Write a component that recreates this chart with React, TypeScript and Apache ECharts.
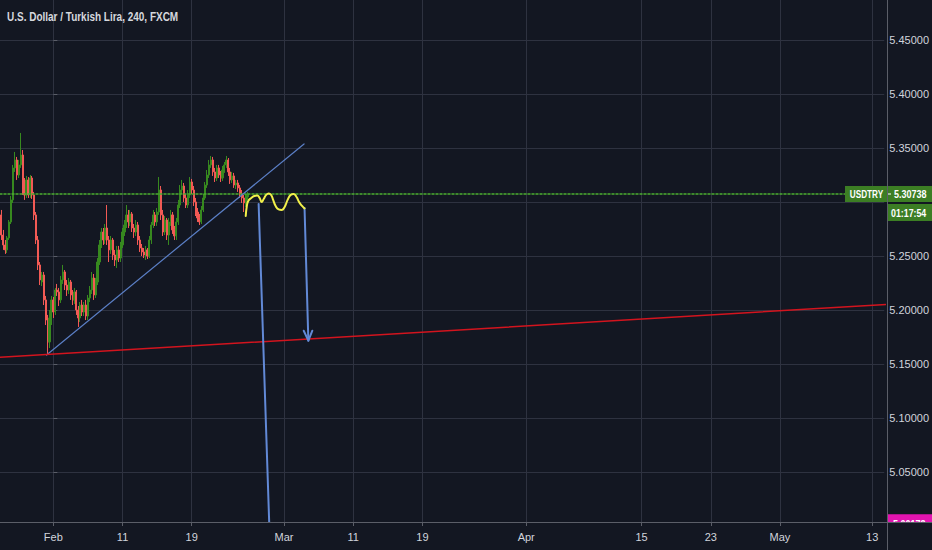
import React, { useEffect, useRef } from 'react';
import * as echarts from 'echarts';

const TITLE = 'U.S. Dollar / Turkish Lira, 240, FXCM';
const SYMBOL = 'USDTRY';
const LAST_PRICE = 5.30738;
const COUNTDOWN = '01:17:54';
const ARROW_END_PRICE = 5.00172;

const X_TICK_DATES = ['2019-02-01', '2019-02-11', '2019-02-19', '2019-03-01', '2019-03-11', '2019-03-19', '2019-04-01', '2019-04-15', '2019-04-23', '2019-05-01', '2019-05-13'];
const X_TICK_LABELS = ['Feb', '11', '19', 'Mar', '11', '19', 'Apr', '15', '23', 'May', '13'];
const Y_TICKS = [5.05, 5.1, 5.15, 5.2, 5.25, 5.3, 5.35, 5.4, 5.45];

// first 4h bar: 2019-01-25 12:00, six bars per trading day
const FIRST_BAR_DATE = '2019-01-25';
const FIRST_BAR_OFFSET = 0.5;
const BARS_PER_DAY = 6;

// [open, close, low, high]
const CANDLES: number[][] = [
  [5.2880, 5.2694, 5.2648, 5.2926], [5.2694, 5.2602, 5.2556, 5.2741], [5.2602, 5.2556, 5.2519, 5.2648], [5.2556, 5.2667, 5.2528, 5.2685], [5.2667, 5.2815, 5.2648, 5.2833],
  [5.2815, 5.3019, 5.2796, 5.3055], [5.3019, 5.3315, 5.2991, 5.3343], [5.3315, 5.3389, 5.3278, 5.3463], [5.3389, 5.3250, 5.3204, 5.3417], [5.3250, 5.3343, 5.3222, 5.3389],
  [5.3343, 5.3435, 5.3315, 5.3639], [5.3435, 5.3111, 5.3065, 5.3481], [5.3111, 5.3065, 5.3019, 5.3222], [5.3065, 5.3204, 5.3037, 5.3241], [5.3204, 5.3065, 5.3037, 5.3231],
  [5.3065, 5.3222, 5.3037, 5.3250], [5.3222, 5.3065, 5.3028, 5.3241], [5.3065, 5.2880, 5.2833, 5.3093], [5.2880, 5.2648, 5.2611, 5.2907], [5.2648, 5.2417, 5.2370, 5.2685],
  [5.2417, 5.2278, 5.2231, 5.2444], [5.2259, 5.2324, 5.2222, 5.2352], [5.2324, 5.2093, 5.2046, 5.2352], [5.2093, 5.1907, 5.1861, 5.2130], [5.1907, 5.1704, 5.1583, 5.1954],
  [5.1704, 5.1926, 5.1648, 5.2000], [5.1926, 5.2093, 5.1861, 5.2130], [5.2093, 5.1981, 5.1926, 5.2120], [5.1981, 5.2185, 5.1954, 5.2204], [5.2185, 5.2167, 5.2130, 5.2241],
  [5.2167, 5.2093, 5.2037, 5.2204], [5.2093, 5.2278, 5.2065, 5.2315], [5.2278, 5.2352, 5.2241, 5.2417], [5.2352, 5.2231, 5.2185, 5.2370], [5.2231, 5.2185, 5.2130, 5.2278],
  [5.2185, 5.2259, 5.2148, 5.2296], [5.2259, 5.2139, 5.2093, 5.2278], [5.2139, 5.2093, 5.2046, 5.2185], [5.2093, 5.2167, 5.2056, 5.2204], [5.2167, 5.2000, 5.1954, 5.2185],
  [5.2000, 5.1926, 5.1843, 5.2037], [5.1926, 5.2046, 5.1889, 5.2074], [5.2046, 5.1981, 5.1944, 5.2093], [5.1981, 5.2046, 5.1944, 5.2074], [5.2046, 5.1944, 5.1907, 5.2093],
  [5.1944, 5.2111, 5.1907, 5.2139], [5.2111, 5.2185, 5.2074, 5.2222], [5.2185, 5.2296, 5.2148, 5.2352], [5.2296, 5.2139, 5.2093, 5.2333], [5.2139, 5.2259, 5.2111, 5.2296],
  [5.2259, 5.2444, 5.2231, 5.2481], [5.2444, 5.2602, 5.2417, 5.2648], [5.2602, 5.2722, 5.2574, 5.2759], [5.2722, 5.2648, 5.2602, 5.2759], [5.2648, 5.2759, 5.2611, 5.2796],
  [5.2759, 5.2648, 5.2602, 5.2972], [5.2648, 5.2556, 5.2444, 5.2685], [5.2556, 5.2648, 5.2519, 5.2685], [5.2648, 5.2509, 5.2463, 5.2667], [5.2509, 5.2463, 5.2407, 5.2556],
  [5.2463, 5.2556, 5.2389, 5.2593], [5.2556, 5.2481, 5.2444, 5.2593], [5.2481, 5.2602, 5.2444, 5.2630], [5.2602, 5.2722, 5.2574, 5.2759], [5.2722, 5.2787, 5.2685, 5.2833],
  [5.2787, 5.2880, 5.2759, 5.2972], [5.2880, 5.2815, 5.2759, 5.2926], [5.2815, 5.2889, 5.2778, 5.2926], [5.2889, 5.2759, 5.2722, 5.2907], [5.2759, 5.2722, 5.2667, 5.2796],
  [5.2722, 5.2787, 5.2685, 5.2833], [5.2787, 5.2648, 5.2602, 5.2815], [5.2648, 5.2574, 5.2537, 5.2685], [5.2574, 5.2537, 5.2500, 5.2611], [5.2537, 5.2509, 5.2481, 5.2574],
  [5.2509, 5.2556, 5.2463, 5.2593], [5.2556, 5.2500, 5.2472, 5.2574], [5.2500, 5.2648, 5.2481, 5.2685], [5.2648, 5.2787, 5.2611, 5.2815], [5.2787, 5.2880, 5.2759, 5.2926],
  [5.2880, 5.2815, 5.2778, 5.2907], [5.2815, 5.2907, 5.2778, 5.2944], [5.2907, 5.3111, 5.2880, 5.3231], [5.3111, 5.2880, 5.2833, 5.3148], [5.2880, 5.2722, 5.2685, 5.2926],
  [5.2722, 5.2833, 5.2694, 5.2870], [5.2833, 5.2694, 5.2648, 5.2852], [5.2694, 5.2815, 5.2602, 5.2852], [5.2815, 5.2880, 5.2778, 5.2926], [5.2880, 5.2741, 5.2704, 5.2907],
  [5.2741, 5.2685, 5.2648, 5.2778], [5.2685, 5.2815, 5.2648, 5.2852], [5.2815, 5.2972, 5.2787, 5.3019], [5.2972, 5.3111, 5.2944, 5.3157], [5.3111, 5.3148, 5.3074, 5.3204],
  [5.3148, 5.3037, 5.3000, 5.3176], [5.3037, 5.2972, 5.2944, 5.3074], [5.2972, 5.3065, 5.2944, 5.3111], [5.3065, 5.3185, 5.3037, 5.3231], [5.3185, 5.3111, 5.3074, 5.3213],
  [5.3111, 5.3000, 5.2963, 5.3148], [5.3000, 5.2907, 5.2870, 5.3037], [5.2907, 5.2852, 5.2815, 5.2944], [5.2852, 5.2815, 5.2787, 5.2889], [5.2815, 5.2926, 5.2796, 5.2963],
  [5.2926, 5.3037, 5.2907, 5.3074], [5.3037, 5.3157, 5.3019, 5.3185], [5.3157, 5.3250, 5.3130, 5.3296], [5.3250, 5.3343, 5.3222, 5.3389], [5.3343, 5.3389, 5.3315, 5.3426],
  [5.3389, 5.3278, 5.3241, 5.3417], [5.3278, 5.3222, 5.3185, 5.3315], [5.3222, 5.3315, 5.3194, 5.3343], [5.3315, 5.3250, 5.3222, 5.3343], [5.3250, 5.3222, 5.3185, 5.3287],
  [5.3222, 5.3296, 5.3194, 5.3333], [5.3296, 5.3343, 5.3269, 5.3370], [5.3343, 5.3389, 5.3315, 5.3426], [5.3389, 5.3278, 5.3241, 5.3407], [5.3278, 5.3204, 5.3167, 5.3315],
  [5.3204, 5.3241, 5.3176, 5.3278], [5.3241, 5.3157, 5.3130, 5.3269], [5.3157, 5.3176, 5.3120, 5.3204], [5.3176, 5.3130, 5.3093, 5.3204], [5.3130, 5.3074, 5.3037, 5.3157],
  [5.3074, 5.3037, 5.2991, 5.3111], [5.3037, 5.2991, 5.2907, 5.3065], [5.2991, 5.3046, 5.2954, 5.3074], [5.3046, 5.30738, 5.3019, 5.3093],
];

// drawings, as [trading day since 2019-02-01, price]
const TREND_LINE = [[-0.588, 5.1583], [21.737, 5.3537]];
const SUPPORT_LINE = [[-4.7, 5.15615], [72.5, 5.2053]];
const ARROW_1 = [[17.8, 5.2982], [18.72, ARROW_END_PRICE]];
const ARROW_2 = [[21.78, 5.2945], [22.11, 5.1716]];
const ARROW_2_HEAD = [[21.71, 5.1808], [22.11, 5.1716], [22.455, 5.1808]];
const SQUIGGLE_DAYS = [16.681, 16.768, 16.897, 17.157, 17.416, 17.675, 17.891, 18.064, 18.237, 18.453, 18.669, 18.885, 19.058, 19.274, 19.533, 19.793, 20.052, 20.311, 20.57, 20.83, 21.089, 21.305, 21.521, 21.78];
const SQUIGGLE_PRICES = [5.287, 5.2954, 5.3009, 5.3037, 5.3055, 5.306, 5.3037, 5.3, 5.3028, 5.3065, 5.3079, 5.3065, 5.3019, 5.2963, 5.2931, 5.2926, 5.2954, 5.3019, 5.3065, 5.3074, 5.3046, 5.3, 5.2968, 5.294];

const X_MIN = -4.624;
const X_MAX = 72.04;
const Y_MIN = 5.0037;
const Y_MAX = 5.4870;

const BG = '#131722';
const GRID = '#2e3240';
const SEP = '#5b5e68';
const TEXT = '#d1d4dc';
const UP = '#37891f';
const DOWN = '#f25a55';
const LABEL_GREEN = '#3c7e24';
const MAGENTA = '#e314b0';
const BLUE = '#6289d6';
const FONT = "'Liberation Sans', Arial, sans-serif";

function tradingDay(date: string): number {
  const base = Date.UTC(2019, 1, 1);
  const t = Date.parse(date + 'T00:00:00Z');
  const DAY = 86400000;
  let n = 0;
  if (t >= base) {
    for (let x = base; x < t; x += DAY) {
      const w = new Date(x).getUTCDay();
      if (w !== 0 && w !== 6) n++;
    }
  } else {
    for (let x = t; x < base; x += DAY) {
      const w = new Date(x).getUTCDay();
      if (w !== 0 && w !== 6) n--;
    }
  }
  return n;
}

export default function App() {
  const ref = useRef<HTMLDivElement>(null);
  useEffect(() => {
    if (!ref.current) return;
    const chart = echarts.init(ref.current, null, { renderer: 'svg' });
    const xTickDays = X_TICK_DATES.map(tradingDay);
    const firstDay = tradingDay(FIRST_BAR_DATE) + FIRST_BAR_OFFSET;
    const candleData = CANDLES.map((c, i) => [firstDay + i / BARS_PER_DAY, c[0], c[1], c[2], c[3]]);
    const squiggle = SQUIGGLE_DAYS.map((d, i) => [d, SQUIGGLE_PRICES[i]]);

    const drawing = (name: string, data: number[][], color: string, width: number, smooth = false, type: any = 'solid') => ({
      name,
      type: 'line',
      data,
      symbol: 'none',
      showSymbol: false,
      smooth,
      silent: true,
      clip: true,
      z: 5,
      lineStyle: { color, width, type, cap: 'round', join: 'round' },
    });

    chart.setOption({
      animation: false,
      backgroundColor: BG,
      grid: { left: 0, top: 0, right: 45, bottom: 28 },
      xAxis: {
        type: 'value',
        min: X_MIN,
        max: X_MAX,
        axisLine: { show: false },
        axisTick: { show: true, customValues: xTickDays, length: 4, lineStyle: { color: SEP } },
        axisLabel: {
          customValues: xTickDays,
          formatter: (v: number) => {
            const i = xTickDays.findIndex((d) => Math.abs(d - v) < 1e-6);
            return i >= 0 ? X_TICK_LABELS[i] : '';
          },
          color: TEXT,
          fontSize: 11,
          margin: 9,
          fontFamily: FONT,
        },
        splitLine: { show: true, lineStyle: { color: GRID, width: 1 } },
      },
      yAxis: {
        type: 'value',
        position: 'right',
        min: Y_MIN,
        max: Y_MAX,
        axisLine: { show: false },
        axisTick: { show: true, customValues: Y_TICKS, length: 4, lineStyle: { color: SEP } },
        axisLabel: {
          customValues: Y_TICKS,
          // the tick label under the last-price tag is hidden, as in the original
          formatter: (v: number) => (Math.abs(v - LAST_PRICE) < 0.012 ? '' : v.toFixed(5)),
          color: TEXT,
          fontSize: 11,
          margin: 5,
          fontFamily: FONT,
        },
        splitLine: { show: true, lineStyle: { color: GRID, width: 1 } },
      },
      series: [
        {
          name: SYMBOL,
          type: 'candlestick',
          data: candleData,
          barWidth: 1.6,
          clip: true,
          z: 3,
          itemStyle: { color: UP, color0: DOWN, borderColor: UP, borderColor0: DOWN, borderWidth: 1 },
        },
        drawing('last price', [[X_MIN, LAST_PRICE], [X_MAX, LAST_PRICE]], '#4caf30', 1.5, false, [2, 2]),
        drawing('trend', TREND_LINE, '#5b7fc6', 1.2),
        drawing('support', SUPPORT_LINE, '#d3141e', 1.5),
        drawing('arrow1', ARROW_1, BLUE, 2),
        drawing('arrow2', ARROW_2, BLUE, 2),
        drawing('arrow2head', ARROW_2_HEAD, BLUE, 2),
        drawing('squiggle', squiggle, '#f2f04a', 2, true),
      ],
    });

    const yLast = chart.convertToPixel({ gridIndex: 0 }, [0, LAST_PRICE])[1];
    const yEnd = chart.convertToPixel({ gridIndex: 0 }, [0, ARROW_END_PRICE])[1];
    const lbl = { fontFamily: FONT, fill: '#ffffff', fontWeight: 'bold', verticalAlign: 'middle' };

    chart.setOption({
      graphic: [
        { type: 'text', z: 101, x: 7, y: 17, scaleX: 0.8, style: { fontFamily: FONT, fontSize: 12.5, fontWeight: 'bold', fill: '#d6d8de', text: TITLE, align: 'left', verticalAlign: 'middle' } },
        { type: 'rect', z: 100, shape: { x: 845, y: yLast - 8, width: 42, height: 16 }, style: { fill: LABEL_GREEN } },
        { type: 'text', z: 101, x: 866.5, y: yLast + 0.5, scaleX: 0.78, style: { ...lbl, fontSize: 10.5, text: SYMBOL, align: 'center' } },
        { type: 'rect', z: 100, shape: { x: 887, y: yLast - 8, width: 45, height: 16 }, style: { fill: LABEL_GREEN } },
        { type: 'line', z: 101, shape: { x1: 887, y1: yLast, x2: 891, y2: yLast }, style: { stroke: '#ffffff', lineWidth: 1 } },
        { type: 'text', z: 101, x: 894, y: yLast + 0.5, scaleX: 0.86, style: { ...lbl, fontSize: 10.5, text: LAST_PRICE.toFixed(5), align: 'left' } },
        { type: 'rect', z: 100, shape: { x: 888, y: yLast + 10, width: 44, height: 17 }, style: { fill: LABEL_GREEN } },
        { type: 'text', z: 101, x: 891, y: yLast + 19, scaleX: 0.84, style: { ...lbl, fontSize: 10.5, text: COUNTDOWN, align: 'left' } },
        { type: 'rect', z: 100, shape: { x: 887, y: yEnd - 10, width: 45, height: 20 }, style: { fill: MAGENTA } },
        { type: 'text', z: 101, x: 893, y: yEnd, scaleX: 0.86, style: { ...lbl, fontSize: 10.5, text: ARROW_END_PRICE.toFixed(5), align: 'left' } },
        { type: 'rect', z: 110, shape: { x: 887, y: 523, width: 45, height: 27 }, style: { fill: BG } },
        { type: 'line', z: 120, shape: { x1: 0, y1: 522.5, x2: 932, y2: 522.5 }, style: { stroke: SEP, lineWidth: 1 } },
        { type: 'line', z: 120, shape: { x1: 887.5, y1: 0, x2: 887.5, y2: 550 }, style: { stroke: SEP, lineWidth: 1 } },
      ],
    });

    return () => chart.dispose();
  }, []);
  return <div ref={ref} style={{ position: 'fixed', left: 0, top: 0, width: 932, height: 550, background: BG }} />;
}
